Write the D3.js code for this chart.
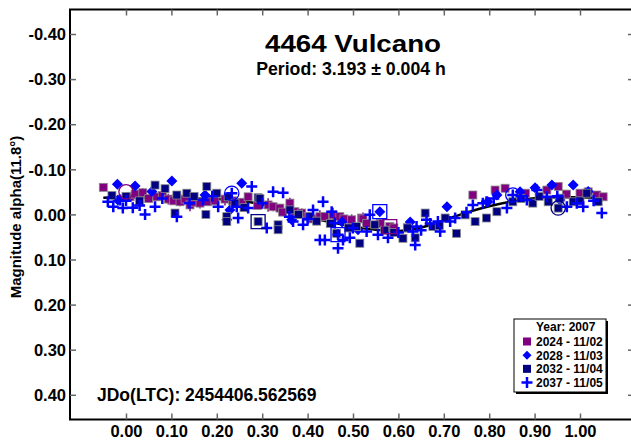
<!DOCTYPE html>
<html><head><meta charset="utf-8">
<script src="https://cdn.jsdelivr.net/npm/d3@7"></script>
<style>
body{margin:0;background:#fff;}
text{font-family:"Liberation Sans",Arial,sans-serif;font-weight:bold;fill:#000;}
</style></head>
<body><svg id="c" width="631" height="441"></svg>
<script>
const titleText = "4464 Vulcano";
const periodText = "Period: 3.193 \u00b1 0.004 h";
const yLabelText = "Magnitude alpha(11.8\u00b0)";
const jdText = "JDo(LTC): 2454406.562569";
const legendTitle = "Year: 2007";
const xTicks = [0,0.1,0.2,0.3,0.4,0.5,0.6,0.7,0.8,0.9,1.0];
const yTicks = [-0.4,-0.3,-0.2,-0.1,0,0.1,0.2,0.3,0.4];

// series 2024 - 11/02 (purple squares) [phase, mag, err]
const s2024 = [[-0.050,-0.060,0],[0.009,-0.039,0],[0.020,-0.045,0],[0.037,-0.048,0.01],[0.050,-0.035,0],[0.068,-0.039,0],[0.080,-0.042,0],[0.093,-0.034,0.012],[0.105,-0.030,0],[0.119,-0.028,0.01],[0.130,-0.034,0],[0.141,-0.021,0.014],[0.150,-0.027,0],[0.163,-0.025,0.012],[0.180,-0.028,0],[0.196,-0.030,0],[0.218,-0.034,0.014],[0.235,-0.030,0],[0.255,-0.027,0],[0.269,-0.039,0],[0.290,-0.020,0],[0.313,-0.021,0.015],[0.324,-0.017,0.01],[0.339,-0.014,0],[0.345,-0.005,0],[0.361,-0.025,0.012],[0.372,-0.006,0],[0.387,-0.003,0.01],[0.401,0.005,0],[0.410,0.010,0],[0.427,0.005,0.014],[0.438,0.005,0],[0.456,0.001,0.016],[0.471,0.005,0],[0.480,0.010,0],[0.497,0.012,0.012],[0.519,0.008,0],[0.522,0.010,0.014],[0.530,0.020,0],[0.560,0.020,0.01],[0.581,0.027,0],[0.590,0.030,0],[0.620,0.030,0],[0.764,-0.043,0],[0.813,-0.054,0],[0.835,-0.058,0],[0.880,-0.047,0],[0.927,-0.054,0],[0.952,-0.062,0],[0.970,-0.045,0],[1.000,-0.047,0],[1.018,-0.050,0],[1.037,-0.043,0],[1.051,-0.039,0]];
// series 2028 - 11/03 (blue diamonds)
const s2028 = [[-0.019,-0.067],[-0.018,-0.032],[0.020,-0.063],[0.057,-0.051],[0.101,-0.074],[0.174,-0.043],[0.222,0.012],[0.229,-0.010],[0.255,-0.069],[0.365,0.012],[0.476,0.017],[0.511,0.034],[0.559,-0.006],[0.626,0.017],[0.707,-0.017],[0.797,-0.028],[0.817,-0.043],[0.868,-0.050],[0.901,-0.059],[0.938,-0.065],[0.956,-0.032],[0.985,-0.065],[1.018,-0.051]];
// series 2032 - 11/04 (navy squares)
const s2032 = [[-0.031,-0.042],[0.000,-0.040],[0.030,-0.030],[0.064,-0.065],[0.086,-0.057],[0.108,-0.003],[0.112,-0.043],[0.134,-0.047],[0.150,-0.040],[0.178,-0.062],[0.176,0.000],[0.200,-0.047],[0.222,0.005],[0.225,-0.039],[0.222,0.016],[0.240,-0.025],[0.260,-0.015],[0.291,-0.037],[0.291,0.016],[0.335,0.023],[0.335,0.034],[0.361,-0.010],[0.380,0.000],[0.405,0.005],[0.420,0.015],[0.450,0.020],[0.464,0.042],[0.490,0.030],[0.515,0.064],[0.508,0.027],[0.548,0.023],[0.570,0.035],[0.590,0.040],[0.610,0.053],[0.620,0.030],[0.637,0.052],[0.659,-0.003],[0.676,0.027],[0.690,0.025],[0.703,0.008],[0.728,0.042],[0.747,0.001],[0.769,0.016],[0.794,0.008],[0.817,-0.006],[0.852,-0.028],[0.870,-0.035],[0.896,-0.025],[0.910,-0.040],[0.930,-0.028],[0.956,-0.036],[0.952,-0.014],[0.985,-0.028],[1.000,-0.030],[1.015,-0.047],[1.040,-0.028],[0.295,-0.035]];
// series 2037 - 11/05 (blue plus)
const s2037 = [[-0.040,-0.028],[-0.028,-0.017],[-0.013,-0.032],[-0.007,-0.014],[0.000,-0.030],[0.015,-0.015],[0.030,-0.020],[0.042,0.000],[0.064,-0.017],[0.080,-0.035],[0.112,0.005],[0.140,-0.025],[0.170,-0.032],[0.190,-0.040],[0.203,-0.017],[0.233,-0.047],[0.244,-0.017],[0.247,0.008],[0.277,-0.062],[0.269,-0.014],[0.300,-0.025],[0.310,0.030],[0.324,-0.050],[0.346,-0.048],[0.360,0.005],[0.368,0.016],[0.390,0.023],[0.400,0.010],[0.412,-0.010],[0.434,-0.028],[0.453,-0.006],[0.460,0.019],[0.427,0.057],[0.438,0.057],[0.467,0.075],[0.478,0.057],[0.493,0.052],[0.500,0.030],[0.467,0.045],[0.537,0.001],[0.530,0.038],[0.555,0.045],[0.577,0.052],[0.600,0.040],[0.637,0.068],[0.650,0.035],[0.692,0.038],[0.662,0.012],[0.714,0.016],[0.725,0.008],[0.750,-0.005],[0.764,-0.021],[0.786,-0.025],[0.670,0.020],[0.687,0.016],[0.640,0.027],[0.632,0.038],[0.852,-0.043],[0.794,-0.028],[0.810,-0.035],[0.839,-0.014],[0.870,-0.040],[0.883,-0.032],[0.905,-0.054],[0.927,-0.039],[0.950,-0.040],[0.971,-0.017],[0.993,-0.025],[1.007,-0.017],[1.030,-0.030],[1.048,-0.003]];

// highlighted (ringed) points per series
const ring2024 = [[0.000,-0.050,"circle"],[0.581,0.027,"square"]];
const ring2028 = [[0.559,-0.006,"square"]];
const ring2032 = [[0.291,0.016,"square"],[0.952,-0.014,"circle"]];
const ring2037 = [[0.233,-0.047,"circle"],[0.467,0.045,"square"],[0.852,-0.043,"circle"]];

// Fourier fit curve
const fitPhase = [-0.05,0.0,0.05,0.1,0.15,0.2,0.25,0.3,0.35,0.4,0.45,0.5,0.55,0.6,0.65,0.7,0.75,0.8,0.85,0.9,0.95,1.0,1.05];
const fitMag   = [-0.037,-0.038,-0.037,-0.036,-0.035,-0.034,-0.031,-0.022,-0.008,0.006,0.017,0.027,0.034,0.037,0.029,0.013,-0.004,-0.018,-0.029,-0.036,-0.038,-0.038,-0.036];

const legendNames = ["2024 - 11/02","2028 - 11/03","2032 - 11/04","2037 - 11/05"];

const svg = d3.select("#c");
const x = d3.scaleLinear().domain([0,1]).range([126,580]);
const y = d3.scaleLinear().domain([-0.4,0.4]).range([34,394.8]);
const L = 70, R = 634, T = 9.5, B = 419.5;
const fmt = d => d3.format(".2f")(d).replace("\u2212","-");

// frame
svg.append("path").attr("d",`M${R},${T}H${L}V${B}H${R}`).attr("fill","none").attr("stroke","#000").attr("stroke-width",2);
svg.append("line").attr("x1",R).attr("x2",R).attr("y1",T).attr("y2",B).attr("stroke","#000").attr("stroke-width",2);

// axes via d3
const xb = svg.append("g").attr("transform",`translate(0,${B})`).call(d3.axisBottom(x).tickValues(xTicks).tickFormat(fmt).tickSizeInner(-6).tickSizeOuter(0).tickPadding(6));
const xt = svg.append("g").attr("transform",`translate(0,${T})`).call(d3.axisTop(x).tickValues(xTicks).tickFormat("").tickSizeInner(-6).tickSizeOuter(0));
const yl = svg.append("g").attr("transform",`translate(${L},0)`).call(d3.axisLeft(y).tickValues(yTicks).tickFormat(fmt).tickSizeInner(-6).tickSizeOuter(0).tickPadding(4));
const yr = svg.append("g").attr("transform",`translate(${R},0)`).call(d3.axisRight(y).tickValues(yTicks).tickFormat("").tickSizeInner(-6).tickSizeOuter(0));
[xb,xt,yl,yr].forEach(g=>{g.select(".domain").remove();g.selectAll(".tick line").attr("stroke","#666").attr("stroke-width",1.5);
  g.selectAll(".tick text").attr("font-size",16.5).attr("font-family","Liberation Sans, Arial, sans-serif").attr("font-weight","bold").attr("fill","#000");});
yl.selectAll(".tick text").attr("dy","0.35em");

// texts
svg.append("text").attr("x",353).attr("y",52).attr("text-anchor","middle").attr("font-size",24).attr("textLength",176).attr("lengthAdjust","spacingAndGlyphs").text(titleText);
svg.append("text").attr("x",351).attr("y",75).attr("text-anchor","middle").attr("font-size",17.7).text(periodText);
svg.append("text").attr("transform","translate(21,217) rotate(-90)").attr("text-anchor","middle").attr("font-size",15).text(yLabelText);
svg.append("text").attr("x",97).attr("y",401).attr("font-size",17.5).text(jdText);

const plot = svg.append("g");
const purple="#800080", blue="#0000ff", navy="#000080";

// fit curve
plot.append("path").datum(d3.zip(fitPhase,fitMag)).attr("fill","none").attr("stroke","#000").attr("stroke-width",2.5)
  .attr("d",d3.line().x(d=>x(d[0])).y(d=>y(d[1])).curve(d3.curveMonotoneX));

function squares(data,color){
  plot.append("g").selectAll("line").data(data.filter(d=>d[2]>0)).join("line")
    .attr("x1",d=>x(d[0])).attr("x2",d=>x(d[0])).attr("y1",d=>y(d[1]-d[2])).attr("y2",d=>y(d[1]+d[2]))
    .attr("stroke",color).attr("stroke-width",1.5);
  plot.append("g").selectAll("rect").data(data).join("rect")
    .attr("x",d=>x(d[0])-4).attr("y",d=>y(d[1])-4).attr("width",8).attr("height",8)
    .attr("fill",color).attr("stroke","#8a8a8a").attr("stroke-width",0.8);
}
const diamondPath = "M0,-5.5L5.5,0L0,5.5L-5.5,0Z";
function diamonds(data,color){
  plot.append("g").selectAll("path").data(data).join("path")
    .attr("d",diamondPath).attr("transform",d=>`translate(${x(d[0])},${y(d[1])})`).attr("fill",color);
}
function pluses(data,color){
  plot.append("g").selectAll("path").data(data).join("path")
    .attr("d","M-5.5,0H5.5M0,-5.5V5.5").attr("transform",d=>`translate(${x(d[0])},${y(d[1])})`)
    .attr("stroke",color).attr("stroke-width",2.5);
}
function rings(data,color){
  plot.append("g").selectAll("path").data(data).join("path")
    .attr("d",d=>d[2]==="circle"?d3.symbol(d3.symbolCircle,160)():"M-7,-7H7V7H-7Z")
    .attr("transform",d=>`translate(${x(d[0])},${y(d[1])})`).attr("fill","none").attr("stroke",color).attr("stroke-width",1.3);
}
squares(s2024,purple);
diamonds(s2028,blue);
squares(s2032,navy);
pluses(s2037,blue);
rings(ring2024,purple); rings(ring2028,blue); rings(ring2032,navy); rings(ring2037,blue);

// legend
const lg = svg.append("g");
lg.append("rect").attr("x",516).attr("y",321).attr("width",92).attr("height",73).attr("fill","#000");
lg.append("rect").attr("x",514).attr("y",319).attr("width",92).attr("height",73).attr("fill","#fff").attr("stroke","#000").attr("stroke-width",1);
lg.append("text").attr("x",536).attr("y",331).attr("font-size",12).text(legendTitle);
const ly = d3.scalePoint().domain(legendNames).range([341.5,382.5]);
lg.selectAll(".lt").data(legendNames).join("text").attr("x",536).attr("y",d=>ly(d)+4.5).attr("font-size",12).text(d=>d);
const lx = 527;
lg.append("rect").attr("x",lx-4).attr("y",ly(legendNames[0])-4).attr("width",8).attr("height",8).attr("fill",purple);
lg.append("path").attr("d","M0,-4.5L4.5,0L0,4.5L-4.5,0Z").attr("transform",`translate(${lx},${ly(legendNames[1])})`).attr("fill",blue);
lg.append("rect").attr("x",lx-4).attr("y",ly(legendNames[2])-4).attr("width",8).attr("height",8).attr("fill",navy);
lg.append("path").attr("d","M-5.5,0H5.5M0,-5.5V5.5").attr("transform",`translate(${lx},${ly(legendNames[3])})`).attr("stroke",blue).attr("stroke-width",2.5);
</script></body></html>
